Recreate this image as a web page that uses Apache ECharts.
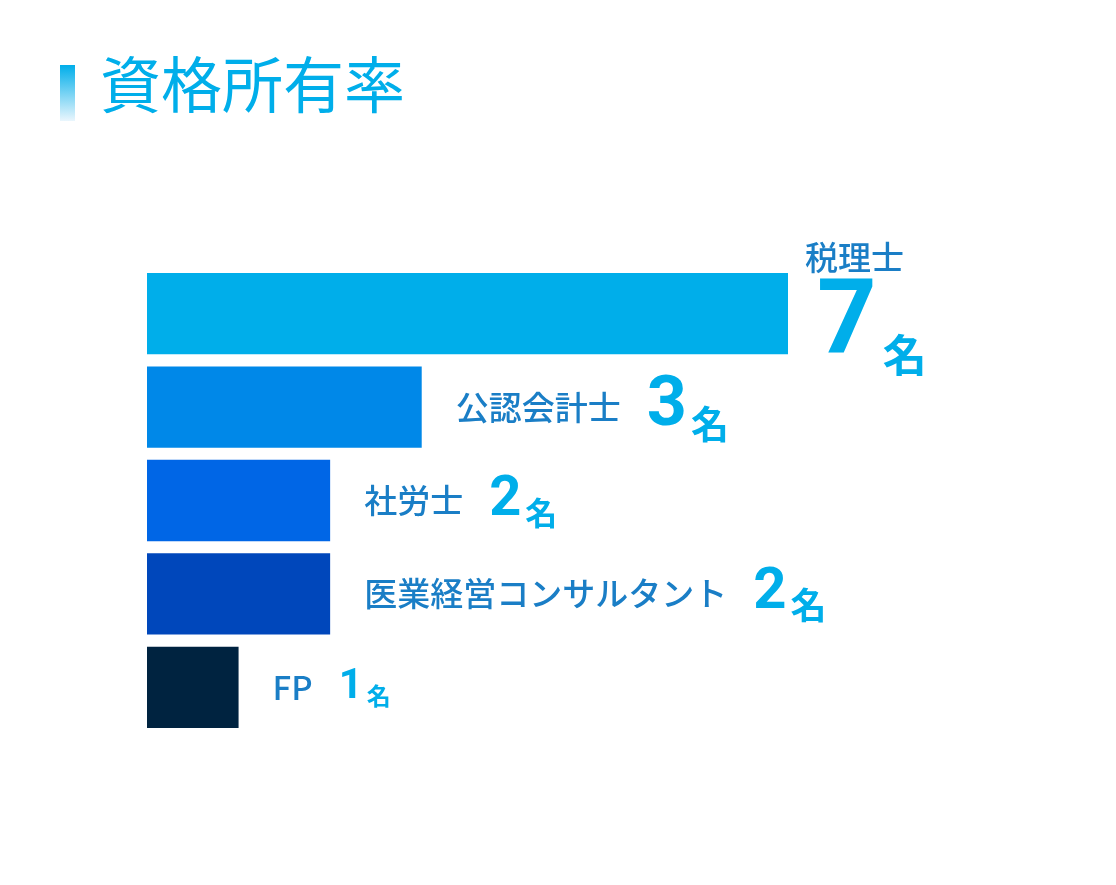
<!DOCTYPE html><html><head><meta charset="utf-8">
<script src="https://cdn.jsdelivr.net/npm/echarts@6/dist/echarts.min.js"></script>
<style>html,body{margin:0;background:#fff}#c{width:1116px;height:885px}</style></head><body><div id="c"></div>
<script>
const categories=['税理士','公認会計士','社労士','医業経営コンサルタント','FP'];
const values=[7,3,2,2,1];
const colors=['#00AEEA','#0088E8','#0066E6','#0047BB','#002340'];
const numSize=[104,70,56,58,42], unitSize=[44,38,32,36,24];
const F='"Noto Sans CJK JP",sans-serif';
const data=values.map((v,i)=>{
  const lh=i===0?100:numSize[i];
  const rich={
    n:{fontFamily:F,fontSize:33,color:'#1A7EC6',fontWeight:500,padding:[0,26,0,0],lineHeight:lh},
    b:{fontFamily:'Roboto,sans-serif',fontSize:numSize[i],fontWeight:'bold',color:'#00AEEA',lineHeight:lh,padding:[0,4,0,0]},
    u:{fontFamily:F,fontSize:unitSize[i],fontWeight:'bold',color:'#00AEEA',lineHeight:lh*0.86,verticalAlign:'bottom'}
  };
  let label;
  if(i===0){
    rich.n.lineHeight=40; rich.n.padding=[0,0,0,0];
    rich.b.padding=[0,6,0,12];
    label={show:true,position:[658,-36],formatter:'{n|'+categories[i]+'}\n{b|'+v+'}{u|名}',rich};
  } else {
    label={show:true,position:'right',distance:34,formatter:'{n|'+categories[i]+'}{b|'+v+'}{u|名}',rich};
  }
  return {value:v,itemStyle:{color:colors[i]},label};
});
const chart=echarts.init(document.getElementById('c'));
chart.setOption({
  animation:false,
  grid:{left:147,right:328,top:267,bottom:151},
  xAxis:{type:'value',min:0,max:7,show:false},
  yAxis:{type:'category',data:categories,inverse:true,show:false},
  series:[{type:'bar',data,barCategoryGap:'13%'}],
  graphic:[
    {type:'rect',left:60,top:65,shape:{width:15,height:56},style:{fill:new echarts.graphic.LinearGradient(0,0,0,1,[{offset:0,color:'#00AEEA'},{offset:1,color:'#EAF6FD'}])}},
    {type:'text',left:100,top:54,style:{text:'資格所有率',font:'61px '+F,fill:'#00AEEA'}}
  ]
});
</script></body></html>
